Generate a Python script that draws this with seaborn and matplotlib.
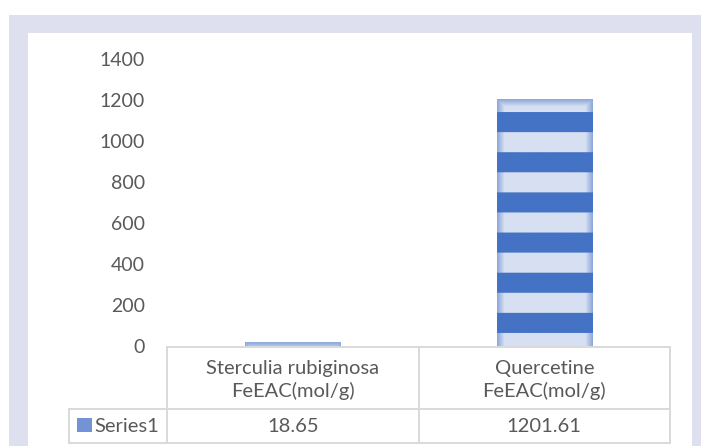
import numpy as np
import pandas as pd
import matplotlib
matplotlib.use("Agg")
import matplotlib.pyplot as plt
import matplotlib.transforms as mtransforms
from matplotlib.patches import Rectangle
from matplotlib.lines import Line2D
import seaborn as sns

# ---- data ----
categories = ["Sterculia rubiginosa\nFeEAC(mol/g)", "Quercetine\nFeEAC(mol/g)"]
values = [18.65, 1201.61]
series_name = "Series1"
yticks = [0, 200, 400, 600, 800, 1000, 1200, 1400]

sns.set_theme(style="white")
plt.rcParams["font.family"] = ["Lato", "DejaVu Sans"]

W, H = 701, 446
fig = plt.figure(figsize=(W / 100, H / 100), dpi=100)
fig.patch.set_facecolor("white")
# pixel transform (y from top)
pix = mtransforms.Affine2D().scale(1 / W, -1 / H).translate(0, 1) + fig.transFigure

fig.patches.append(Rectangle((9, 15), W - 9, H - 15, transform=pix,
                             facecolor="#DEE0EF", edgecolor="none", zorder=-10))
fig.patches.append(Rectangle((28, 33), 692 - 28, H - 33, transform=pix,
                             facecolor="white", edgecolor="none", zorder=-9))

ax = fig.add_axes([167 / W, (H - 346) / H, (670 - 167) / W, (346 - 59) / H])
ax.set_facecolor("none")

df = pd.DataFrame({"cat": categories, "val": values})
sns.barplot(data=df, x="cat", y="val", ax=ax, width=0.378,
            color="#4472C4", saturation=1, errorbar=None)

FS = 14.5
TXT = "#595959"
ax.set_xlim(-0.5, 1.5)
ax.set_ylim(0, 1400)
ax.set_yticks(yticks)
ax.set_yticklabels([str(t) for t in yticks])
ax.tick_params(axis="y", length=0, pad=16, labelsize=14, labelcolor=TXT)
ax.set_xticks([])
ax.set_xlabel("")
ax.set_ylabel("")
for s in ax.spines.values():
    s.set_visible(False)

# ---- striped fill with soft edges ----
fig.canvas.draw()
dark = np.array([0x44, 0x72, 0xC4]) / 255
light = np.array([0xD7, 0xE0, 0xF2]) / 255
edge = np.array([0x8E, 0xA9, 0xDB]) / 255
for p in list(ax.patches):
    x0, w, h = p.get_x(), p.get_width(), p.get_height()
    (px0, py0) = ax.transData.transform((x0, 0))
    (px1, py1) = ax.transData.transform((x0 + w, h))
    npx = max(int(round(px1 - px0)), 2)
    npy = max(int(round(py1 - py0)), 2)
    img = np.zeros((npy, npx, 3))
    for r in range(npy):
        from_bottom = npy - 1 - r
        k = from_bottom - 13
        is_dark = k >= 0 and (k // 20) % 2 == 0
        for c in range(npx):
            if is_dark:
                img[r, c] = dark
            else:
                d = min(c, npx - 1 - c, r)
                t = max(0.0, 1 - d / 7.0)
                img[r, c] = light * (1 - t) + edge * t
    p.set_facecolor("none")
    p.set_edgecolor("none")
    ax.imshow(img, extent=(x0, x0 + w, 0, h), aspect="auto",
              interpolation="bilinear", zorder=2)
ax.set_xlim(-0.5, 1.5)
ax.set_ylim(0, 1400)

# ---- data table ----
lc = "#D9D9D9"
lw = 1.4
segs = [((167, 346.5), (670, 346.5)), ((69, 409), (670, 409)), ((69, 443), (670, 443)),
        ((69, 409), (69, 443)), ((167, 346.5), (167, 443)), ((418.5, 346.5), (418.5, 443)),
        ((670, 346.5), (670, 443))]
for (a, b) in segs:
    fig.add_artist(Line2D([a[0], b[0]], [a[1], b[1]], transform=pix, color=lc, lw=lw))

blend = mtransforms.blended_transform_factory(ax.transData, pix)
for i, (cat, v) in enumerate(zip(categories, values)):
    fig.text(i, 380, cat, transform=blend, ha="center", va="center",
             fontsize=FS, color=TXT, linespacing=1.35)
    fig.text(i, 426, f"{v:.2f}", transform=blend, ha="center", va="center",
             fontsize=FS, color=TXT)

fig.patches.append(Rectangle((77, 418), 15, 14, transform=pix,
                             facecolor="#7493D6", edgecolor="none"))
fig.text(94, 426, series_name, transform=pix, ha="left", va="center",
         fontsize=FS, color=TXT)

fig.savefig("out.png", dpi=100, facecolor="white")
